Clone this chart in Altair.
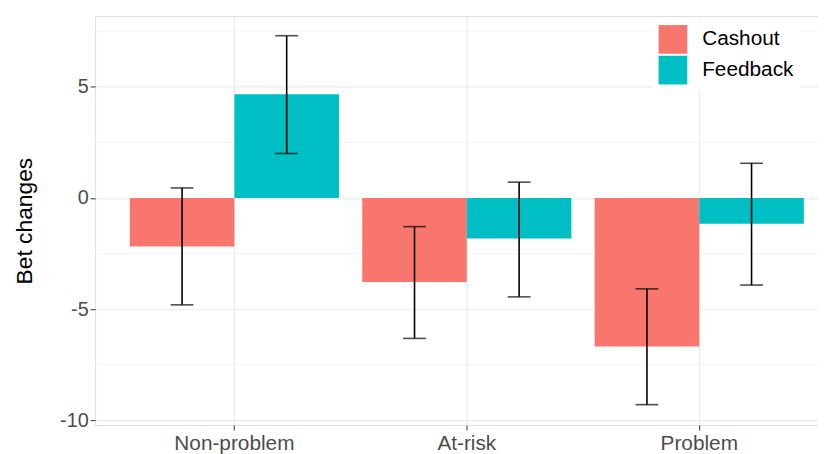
import altair as alt
import pandas as pd

groups = ["Non-problem", "At-risk", "Problem"]
conditions = ["Cashout", "Feedback"]
colors = ["#F8766D", "#00BFC4"]

cashout_mean = [-2.18, -3.78, -6.68]
cashout_low = [-4.81, -6.32, -9.30]
cashout_high = [0.45, -1.29, -4.09]

feedback_mean = [4.67, -1.82, -1.16]
feedback_low = [2.00, -4.45, -3.92]
feedback_high = [7.30, 0.71, 1.56]

y_ticks = [-10, -5, 0, 5]
y_minor = [-7.5, -2.5, 2.5, 7.5]

rows = []
for i, g in enumerate(groups):
    rows.append({"group": g, "cond": "Cashout", "mean": cashout_mean[i],
                 "low": cashout_low[i], "high": cashout_high[i]})
    rows.append({"group": g, "cond": "Feedback", "mean": feedback_mean[i],
                 "low": feedback_low[i], "high": feedback_high[i]})
df = pd.DataFrame(rows)
minor_df = pd.DataFrame({"v": y_minor})

FONT = "Liberation Sans"
ydom = [-10.22, 8.18]
xscale = alt.Scale(domain=groups, paddingInner=0.1, paddingOuter=0.105, align=0.71, round=False)
yscale = alt.Scale(domain=ydom, nice=False, zero=False)

x_enc = alt.X("group:N", scale=xscale, sort=groups,
              axis=alt.Axis(title=None, labelAngle=0, labelFontSize=21, labelColor="#4D4D4D",
                            labelFont=FONT, tickColor="#333333", tickSize=5,
                            domain=False, labelPadding=3, grid=True, gridColor="#EBEBEB",
                            gridWidth=1.2))
xoff = alt.XOffset("cond:N", scale=alt.Scale(domain=conditions, paddingInner=0, paddingOuter=0))

minor = alt.Chart(minor_df).mark_rule(color="#F4F4F4", strokeWidth=1).encode(
    y=alt.Y("v:Q", scale=yscale)
)

bars = alt.Chart(df).mark_bar().encode(
    x=x_enc,
    xOffset=xoff,
    y=alt.Y("mean:Q", scale=yscale,
            axis=alt.Axis(title="Bet changes", values=y_ticks, titleFontSize=23,
                          titleFont=FONT, titleFontWeight="normal", titleColor="black",
                          labelFontSize=20, labelColor="#4D4D4D", labelFont=FONT,
                          labelExpr="toString(datum.value)",
                          tickColor="#333333", tickSize=5, labelPadding=2, domain=False,
                          grid=True, gridColor="#EBEBEB", gridWidth=1.2, titlePadding=23)),
    y2=alt.datum(0),
    color=alt.Color("cond:N", scale=alt.Scale(domain=conditions, range=colors),
                    legend=alt.Legend(title=None, orient="none", legendX=563, legendY=3,
                                      symbolType="square", symbolSize=841, symbolStrokeWidth=0,
                                      labelFontSize=21, labelFont=FONT,
                                      labelColor="black", labelOffset=15, rowPadding=2,
                                      fillColor="white", padding=6)),
)

err_rule = alt.Chart(df).mark_rule(color="black", strokeWidth=1.6).encode(
    x=alt.X("group:N", scale=xscale, sort=groups),
    xOffset=xoff,
    y=alt.Y("low:Q", scale=yscale),
    y2="high:Q",
)
cap_low = alt.Chart(df).mark_tick(color="black", thickness=1.6, size=23).encode(
    x=alt.X("group:N", scale=xscale, sort=groups),
    xOffset=xoff,
    y=alt.Y("low:Q", scale=yscale),
)
cap_high = alt.Chart(df).mark_tick(color="black", thickness=1.6, size=23).encode(
    x=alt.X("group:N", scale=xscale, sort=groups),
    xOffset=xoff,
    y=alt.Y("high:Q", scale=yscale),
)

chart = alt.layer(minor, bars, err_rule, cap_low, cap_high).properties(
    width=730, height=413,
    autosize=alt.AutoSizeParams(type="none"),
    padding={"left": 88, "top": 6, "right": 0, "bottom": 30},
).configure_view(stroke="#333333", strokeWidth=1).configure(background="white")

chart.save("out.html", embed_options={"renderer": "svg", "actions": False})
